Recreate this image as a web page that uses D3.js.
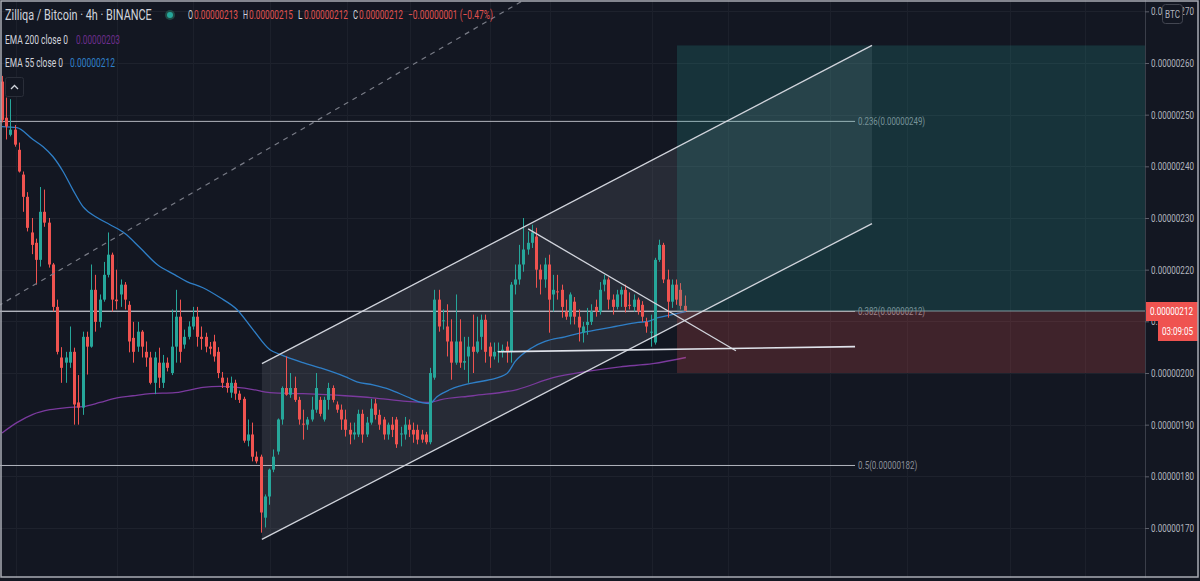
<!DOCTYPE html>
<html><head><meta charset="utf-8">
<script src="https://cdn.jsdelivr.net/npm/d3@7"></script>
<style>html,body{margin:0;padding:0;background:#131722;overflow:hidden}</style>
</head><body><svg id="c" width="1200" height="581"></svg>
<script>
// Prices in satoshi (1e-8 BTC)
const opens=[256.4,249.4,246.1,247.1,243.2,238.4,234.1,227.2,225.2,221.9,231.2,229.1,221.0,212.8,203.0,202.0,202.0,204.1,194.3,193.3,207.0,205.1,216.1,209.9,214.2,219.0,222.9,214.2,215.2,217.1,213.2,206.8,205.1,208.0,204.1,203.0,198.1,202.0,198.1,202.0,200.0,205.1,210.9,205.5,207.0,209.0,210.9,207.0,207.0,205.1,206.1,204.1,199.1,198.1,196.2,198.1,196.0,195.0,186.9,188.1,183.8,183.8,172.0,176.1,181.3,184.8,191.0,197.1,195.8,197.1,194.8,190.2,190.0,191.0,192.9,194.8,191.0,194.8,197.1,193.9,192.9,191.0,189.0,188.1,188.1,192.1,188.1,190.4,194.1,191.9,191.0,188.1,190.0,191.0,188.1,188.1,190.0,189.0,189.0,188.1,188.1,186.6,199.1,214.2,210.0,209.0,206.1,202.0,206.1,202.0,203.2,205.1,204.1,207.0,210.3,205.1,203.2,204.1,204.1,205.1,204.1,217.1,218.1,221.0,223.9,225.2,226.4,220.0,218.1,221.0,215.2,215.8,216.1,211.9,210.9,213.8,210.9,207.8,209.3,209.9,212.8,211.9,217.1,218.1,214.2,212.8,215.2,216.1,213.2,212.8,214.2,213.2,209.9,207.8,205.9,221.9,224.8,218.1,213.8,217.1,216.1,213.0];
const highs=[257.5,253.3,253.0,248.0,244.6,239.0,235.0,230.0,226.0,236.0,235.5,230.0,221.3,214.2,205.0,204.1,209.0,204.9,199.6,208.0,208.0,221.0,219.0,215.2,221.5,227.2,223.3,220.0,218.1,217.6,213.9,209.9,209.9,208.3,206.1,204.1,204.1,204.9,203.5,203.0,212.3,216.1,214.2,208.4,210.0,212.8,212.8,209.0,207.8,206.0,207.4,205.0,200.2,199.1,199.3,198.7,196.6,195.4,191.0,190.4,184.8,184.2,176.5,181.5,185.2,191.2,197.4,203.2,200.0,199.3,195.4,192.9,191.5,195.4,200.0,195.4,195.4,198.1,197.6,194.5,193.9,192.9,190.4,190.4,192.9,192.9,191.5,195.0,195.0,192.9,191.5,190.4,191.5,191.5,189.6,191.5,191.0,190.4,190.0,189.0,188.6,201.0,216.1,216.1,212.3,213.3,210.4,215.2,210.4,207.0,207.0,211.3,210.9,211.3,211.3,205.9,205.9,205.9,205.5,206.1,217.6,221.0,224.8,230.0,227.4,228.7,228.1,221.0,222.3,222.9,219.0,219.0,217.1,214.2,215.6,214.7,212.3,209.9,212.6,213.3,214.2,217.6,219.0,218.5,215.2,216.1,216.7,217.1,215.6,215.2,214.6,213.9,210.7,211.3,222.3,225.8,225.2,220.0,218.1,218.1,217.4,215.0];
const lows=[248.5,245.2,245.8,243.8,238.8,231.2,227.4,223.0,217.1,220.6,228.3,220.4,211.9,203.6,198.1,198.1,201.0,190.0,190.0,191.9,199.7,204.9,208.0,208.8,213.8,218.5,211.9,212.3,212.8,212.3,204.0,202.0,204.1,203.0,201.2,197.8,195.9,197.1,197.1,200.3,199.6,202.0,202.0,204.7,206.5,208.4,205.1,204.5,204.0,203.6,202.2,199.0,197.1,196.2,195.2,194.8,194.2,186.5,185.8,182.9,182.5,169.1,170.1,174.5,180.8,184.2,190.0,195.6,195.2,194.4,190.0,187.1,189.0,190.6,192.3,191.6,190.6,192.9,194.3,192.3,189.0,187.7,186.2,187.1,187.6,186.5,187.6,190.0,191.0,189.0,187.1,187.1,187.6,185.5,185.8,187.1,187.6,186.5,186.2,186.5,186.2,186.2,198.7,208.0,208.4,203.2,198.7,201.6,201.0,200.6,198.1,200.0,203.8,204.5,202.0,201.0,202.6,202.0,203.0,202.0,202.0,215.2,217.1,219.6,222.9,224.2,216.5,215.2,216.5,207.8,211.9,214.2,210.7,210.3,209.4,209.4,206.1,205.9,207.4,209.3,210.9,211.3,215.8,212.3,211.3,212.3,212.8,211.7,212.3,211.9,211.3,209.9,207.8,205.1,205.5,221.5,217.4,210.7,212.6,213.2,212.3,212.0];
const closes=[249.0,247.7,247.1,244.2,239.0,234.1,228.1,224.8,221.9,231.2,229.1,221.0,212.8,204.1,201.0,203.0,204.1,193.9,193.3,207.0,205.1,216.1,209.9,214.2,219.0,222.9,214.2,213.9,217.1,214.2,206.1,204.1,208.0,205.1,203.0,198.1,203.0,199.1,202.0,201.0,205.1,210.9,204.1,207.0,209.0,210.9,207.0,206.6,205.1,204.7,203.2,200.0,198.1,197.1,198.1,196.0,194.8,186.9,188.1,183.8,182.9,173.0,176.1,181.3,183.8,191.0,197.1,195.8,197.1,194.8,191.0,190.0,191.0,192.9,197.1,192.1,194.8,197.1,194.8,192.9,191.0,189.0,188.1,188.5,192.1,188.1,190.4,193.1,191.9,190.0,188.1,190.0,189.0,186.2,188.3,190.0,189.0,188.1,187.1,187.1,186.6,200.0,214.2,209.0,210.2,206.1,202.0,206.1,202.0,202.3,205.1,204.1,206.1,210.3,204.1,203.2,204.1,204.3,204.5,204.1,217.1,218.1,221.0,223.9,225.2,227.2,220.0,218.1,221.0,214.2,216.1,215.6,212.8,210.9,215.2,210.9,208.8,209.0,209.9,211.9,211.9,216.1,218.1,214.2,212.8,215.2,216.1,212.8,213.0,214.2,211.9,210.9,209.0,208.0,221.9,224.8,218.1,213.8,217.1,214.2,213.0,212.0];

// EMA readings (bar index, price)
const ema55Bars=[0,3.5,7.3,9.7,12,14.4,16.7,19.1,22.4,25.5,29,32.5,36.6,40.8,43.6,47.4,51.4,55.4,59.2,63.2,65.6,71,75,80.9,83.7,87.5,91.5,95.5,99.3,100.9,102.6,105.7,111.1,115.1,119.1,121,125,128.1,132.8,136.8,140.6,144.6,150,152.4,154.7,158,161.3];
const ema55Vals=[247.7,247.5,245.2,243.8,241.9,239.0,235.5,232.2,230.1,228.7,227.0,224.3,221.0,219.0,217.7,216.5,214.6,212.3,208.4,204.5,203.6,202.0,201.0,199.3,198.3,197.7,196.8,195.4,194.2,194.1,195.4,196.8,198.1,198.7,199.9,202.2,204.9,206.1,207.0,207.8,208.4,209.0,209.8,210.0,210.7,211.3,211.9];
const ema200Bars=[0,3.5,7.3,11.3,15.3,19.1,23.1,27.1,30.9,34.9,40.8,43.6,47.4,51.4,55.4,59.2,63.2,71,80.9,87.5,95.5,100.9,103.3,111.1,121.5,130,138,145.8,153.5,161.3];
const ema200Vals=[188.4,190.4,192.0,192.9,193.3,193.5,194.3,195.2,195.6,196.0,196.2,196.6,197.2,197.4,197.2,196.8,196.2,196.0,195.6,195.2,194.5,194.3,194.8,195.6,196.8,199.1,200.3,201.2,201.8,203.0];

const priceTicks=[170,180,190,200,210,220,230,240,250,260,270];
const gridBars=[3.3,27.1,45,63.2,81.4,96.2,115,129.2,153.3,171.2,195.3,213.4,237.7,255.4];
const fibLevels=[0.236,0.382,0.5];
const fibPrices=[248.7,211.9,182.1];
// drawings: [bar, price]
const channelUpper=[[61.3,201.8],[205.2,263.4]];
const channelLower=[[61.3,167.8],[205.2,228.9]];
const dashedLine=[[-0.47,213.2],[40.8,232.9]];
const descLine=[[124.1,227.9],[173.1,204.3]];
const flatLine=[[117,204.1],[201.2,205.1]];
const longPos={start:159.2,end:280,target:263.4,entry:211.9,stop:200.0};
const fibEnd=201.2;

const svg=d3.select("#c");
const W=1200,H=581,plotR=1145,plotB=578;
const FONT="Roboto, 'Noto Sans', sans-serif";
const x=d3.scaleLinear().domain([0,161]).range([2,684.6]);
const y=d3.scaleLinear().domain([170,260]).range([528,63]);
const fmt=v=>(v/1e8).toFixed(8);

// horizontally compressed text helper: fits a string into a given width
function ctext(parent,tx,ty,str,size,width,color,anchor){
  const gg=parent.append("g").attr("transform",`translate(${tx},${ty})`);
  const t=gg.append("text").text(str).attr("font-family",FONT).attr("font-size",size)
    .attr("fill",color).attr("dy","0.35em");
  const nat=t.node().getComputedTextLength()||1;
  const s=width/nat;
  let ox=0; if(anchor==="middle") ox=-width/2;
  t.attr("transform",`translate(${ox},0) scale(${s},1)`);
  return gg;
}

svg.append("rect").attr("width",W).attr("height",H).attr("fill","#131722");
svg.append("defs").append("clipPath").attr("id","plot").append("rect").attr("x",0).attr("y",0).attr("width",plotR).attr("height",plotB);
const g=svg.append("g").attr("clip-path","url(#plot)");

// grid
g.selectAll(".hg").data(priceTicks).join("line").attr("x1",0).attr("x2",plotR)
 .attr("y1",d=>Math.round(y(d))+0.5).attr("y2",d=>Math.round(y(d))+0.5).attr("stroke","#1e222d");
g.selectAll(".vg").data(gridBars).join("line").attr("y1",0).attr("y2",plotB)
 .attr("x1",d=>Math.round(x(d))+0.5).attr("x2",d=>Math.round(x(d))+0.5).attr("stroke","#1c202b");

// channel fill
const chPoly=[channelUpper[0],channelUpper[1],channelLower[1],channelLower[0]];
g.append("path").attr("d",d3.line().x(d=>x(d[0])).y(d=>y(d[1]))(chPoly)+"Z")
 .attr("fill","rgba(120,123,134,0.2)");

// fib lines & price line
g.append("line").attr("x1",0).attr("x2",plotR).attr("y1",y(closes[161])).attr("y2",y(closes[161]))
 .attr("stroke","#9598a1").attr("stroke-width",1);
fibPrices.forEach((p,i)=>{
  g.append("line").attr("x1",x(-5)).attr("x2",x(fibEnd)).attr("y1",y(p)).attr("y2",y(p))
   .attr("stroke","#b2b5be").attr("stroke-width",1);
  const t=`${fibLevels[i]}(${fmt(p)})`;
  ctext(g,x(fibEnd)+3,y(p),t,11,t.length*3.95,"#8a8e98");
});

// EMAs
const ln=d3.line().x(d=>x(d[0])).y(d=>y(d[1])).curve(d3.curveMonotoneX);
g.append("path").attr("d",ln(ema200Bars.map((b,i)=>[b,ema200Vals[i]]))).attr("fill","none").attr("stroke","#7b3a9e").attr("stroke-width",1.3);
g.append("path").attr("d",ln(ema55Bars.map((b,i)=>[b,ema55Vals[i]]))).attr("fill","none").attr("stroke","#2f7fc7").attr("stroke-width",1.3);

// candles
const idx=d3.range(opens.length);
const col=i=>closes[i]>=opens[i]?"#26a69a":"#ef5350";
g.selectAll(".wick").data(idx).join("line")
 .attr("x1",i=>Math.round(x(i))+0.5).attr("x2",i=>Math.round(x(i))+0.5)
 .attr("y1",i=>y(highs[i])).attr("y2",i=>y(lows[i])).attr("stroke",col).attr("stroke-width",1);
g.selectAll(".body").data(idx).join("rect")
 .attr("x",i=>Math.round(x(i))-1).attr("width",3)
 .attr("y",i=>y(Math.max(opens[i],closes[i])))
 .attr("height",i=>Math.max(1,Math.abs(y(opens[i])-y(closes[i]))))
 .attr("fill",col);

// long position
g.append("rect").attr("x",x(longPos.start)).attr("width",x(longPos.end)-x(longPos.start))
 .attr("y",y(longPos.target)).attr("height",y(longPos.entry)-y(longPos.target)).attr("fill","rgba(38,166,154,0.2)");
g.append("rect").attr("x",x(longPos.start)).attr("width",x(longPos.end)-x(longPos.start))
 .attr("y",y(longPos.entry)).attr("height",y(longPos.stop)-y(longPos.entry)).attr("fill","rgba(239,83,80,0.2)");

// drawings
const seg=(pts,stroke,w,dash)=>{const p=g.append("path").attr("d",d3.line().x(d=>x(d[0])).y(d=>y(d[1]))(pts))
  .attr("fill","none").attr("stroke",stroke).attr("stroke-width",w); if(dash)p.attr("stroke-dasharray",dash);};
seg(channelUpper,"#d1d4dc",1.3);
seg(channelLower,"#d1d4dc",1.3);
const dSlope=(dashedLine[1][1]-dashedLine[0][1])/(dashedLine[1][0]-dashedLine[0][0]);
seg([[-5,dashedLine[0][1]+dSlope*(-5-dashedLine[0][0])],[140,dashedLine[0][1]+dSlope*(140-dashedLine[0][0])]],"#787b86",1.2,"5,5");
seg(descLine,"#d1d4dc",1.3);
seg(flatLine,"#e0e3eb",1.6);

// axis
svg.append("line").attr("x1",plotR+0.5).attr("x2",plotR+0.5).attr("y1",0).attr("y2",plotB).attr("stroke","#3a3e49");
const ax=svg.append("g").attr("transform",`translate(${plotR},0)`)
 .call(d3.axisRight(y).tickValues(priceTicks).tickSize(4).tickFormat(""));
ax.select(".domain").remove();
ax.selectAll("line").attr("stroke","#5d606b");
priceTicks.forEach(v=>ctext(svg,plotR+6,y(v),fmt(v),11,43,"#b2b5be"));

// BTC box
svg.append("rect").attr("x",1162.5).attr("y",4.5).attr("width",20).attr("height",19).attr("rx",3)
 .attr("fill","#131722").attr("stroke","#434651");
ctext(svg,1172.5,14,"BTC",10,15,"#b2b5be","middle");

// last price label
const ly=y(closes[161]);
svg.append("rect").attr("x",1146).attr("y",ly-9).attr("width",52).attr("height",19).attr("fill","#ef5350");
ctext(svg,1150,ly,fmt(closes[161]),11,43,"#ffffff");
svg.append("rect").attr("x",1158).attr("y",ly+10).attr("width",40).attr("height",20).attr("fill","#ef5350");
ctext(svg,1162,ly+20,"03:09:05",11,31,"#ffffff");

// legend
const L=svg.append("g");
ctext(L,5,15,"Zilliqa / Bitcoin · 4h · BINANCE",14,147,"#d1d4dc");
L.append("circle").attr("cx",170).attr("cy",15).attr("r",5).attr("fill","#1f4a45");
L.append("circle").attr("cx",170).attr("cy",15).attr("r",3).attr("fill","#26a69a");
const last=opens.length-1, chg=closes[last]-closes[last-1];
const red="#e0524f", lt="#d1d4dc";
const chgStr=fmt(chg).replace("-","−")+" ("+(chg/closes[last-1]*100).toFixed(2).replace("-","−")+"%)";
ctext(L,188,15,"O",12.5,5,lt); ctext(L,194,15,fmt(opens[last]),12.5,44,red);
ctext(L,243,15,"H",12.5,5,lt); ctext(L,249,15,fmt(highs[last]),12.5,44,red);
ctext(L,298,15,"L",12.5,4.5,lt); ctext(L,304,15,fmt(lows[last]),12.5,44,red);
ctext(L,353,15,"C",12.5,5,lt); ctext(L,359,15,fmt(closes[last]),12.5,44,red);
ctext(L,408,15,chgStr,12.5,85,red);
ctext(L,5,40,"EMA 200 close 0",12,63,lt);
ctext(L,76,40,fmt(ema200Vals[ema200Vals.length-1]),12,44,"#6c2e8c");
ctext(L,5,63,"EMA 55 close 0",12,58,lt);
ctext(L,70,63,fmt(ema55Vals[ema55Vals.length-1]),12,45,"#2f7fc7");

// collapse button
svg.append("rect").attr("x",5.5).attr("y",77.5).attr("width",18).attr("height",19).attr("rx",2)
 .attr("fill","#131722").attr("stroke","#2a2e39");
svg.append("path").attr("d","M11,89 L14.5,85.5 L18,89").attr("fill","none").attr("stroke","#d1d4dc").attr("stroke-width",1.3);

// frame
svg.append("rect").attr("x",1).attr("y",1).attr("width",1197).attr("height",576).attr("fill","none")
 .attr("stroke","#a9acb4").attr("stroke-width",1.5);
</script></body></html>
